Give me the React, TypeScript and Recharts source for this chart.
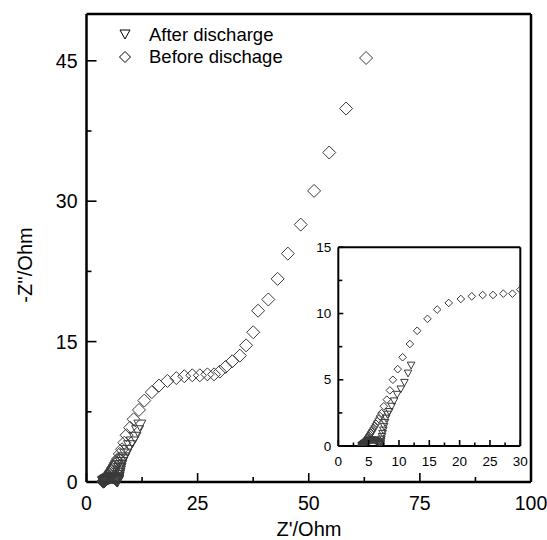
import { ScatterChart, Scatter, XAxis, YAxis, ReferenceLine, Legend } from "recharts";

// Before discharge (diamonds), Z' and -Z'' in Ohm
const beforeX = [
  3.8, 3.83, 3.86, 3.9, 3.94, 3.98, 4.03, 4.08, 4.14, 4.2, 4.28, 4.36, 4.45, 4.55, 4.66, 4.78, 4.9, 5.03,
  5.17, 5.32, 5.48, 5.65, 5.83, 6.02, 6.22, 6.43, 6.65, 6.88, 7.12, 7.5, 8.0, 8.5, 9.0, 9.8, 10.6, 11.8,
  13.0, 14.7, 16.3, 18.2, 20.2, 22.0, 23.8, 25.5, 27.2, 28.7, 30.0, 31.3, 32.8, 34.5, 35.9, 37.5, 38.6,
  40.9, 43.0, 45.3, 48.2, 51.2, 54.6, 58.4, 62.9,
];
const beforeY = [
  0.03, 0.05, 0.07, 0.09, 0.11, 0.13, 0.16, 0.19, 0.22, 0.26, 0.3, 0.35, 0.4, 0.46, 0.53, 0.6, 0.68, 0.77,
  0.87, 0.98, 1.1, 1.23, 1.37, 1.52, 1.68, 1.86, 2.05, 2.26, 2.48, 3.0, 3.5, 4.2, 5.0, 5.8, 6.7, 7.7,
  8.7, 9.6, 10.3, 10.8, 11.1, 11.3, 11.4, 11.4, 11.5, 11.5, 11.8, 12.3, 12.9, 13.5, 14.6, 16.0, 18.3,
  19.5, 21.7, 24.4, 27.5, 31.1, 35.2, 39.9, 45.3,
];

// After discharge (triangles)
const afterX = [
  3.85, 3.9, 3.95, 4.0, 4.06, 4.13, 4.2, 4.3, 4.42, 4.56, 4.72, 4.9, 5.1, 5.3, 5.5, 5.7, 5.9, 6.1, 6.3,
  6.5, 6.65, 6.78, 6.88, 6.95, 7.0, 7.05, 7.12, 7.2, 7.3, 7.42, 7.55, 7.7, 7.88, 8.1, 8.4, 8.8, 9.2, 9.7,
  10.3, 10.9, 11.5, 12.0,
];
const afterY = [
  0.02, 0.04, 0.06, 0.08, 0.1, 0.13, 0.16, 0.2, 0.24, 0.28, 0.32, 0.36, 0.4, 0.43, 0.45, 0.46, 0.45,
  0.42, 0.37, 0.3, 0.23, 0.17, 0.12, 0.1, 0.2, 0.35, 0.52, 0.72, 0.95, 1.2, 1.48, 1.78, 2.1, 2.4, 2.6,
  3.0, 3.4, 3.9, 4.3, 4.8, 5.5, 6.1,
];

const mainXTicks = [0, 12.5, 25, 37.5, 50, 62.5, 75, 87.5, 100];
const mainYTicks = [0, 7.5, 15, 22.5, 30, 37.5, 45];
const insetXTicks = [0, 2.5, 5, 7.5, 10, 12.5, 15, 17.5, 20, 22.5, 25, 27.5, 30];
const insetYTicks = [0, 2.5, 5, 7.5, 10, 12.5, 15];

const seriesNames = ["After discharge", "Before dischage"];

const before = beforeX.map((x, i) => ({ x, y: beforeY[i] }));
const after = afterX.map((x, i) => ({ x, y: afterY[i] }));

const FONT = "'Liberation Sans', Arial, Helvetica, sans-serif";
const MARK = "#3a3a3a";

const diamond = (r: number, color = MARK) => (p: any) => (
  <path
    d={`M${p.cx},${p.cy - r}L${p.cx + r},${p.cy}L${p.cx},${p.cy + r}L${p.cx - r},${p.cy}Z`}
    fill="none"
    stroke={color}
    strokeWidth={1}
  />
);

const triDown = (r: number, color = MARK) => (p: any) => (
  <path
    d={`M${p.cx - r},${p.cy - r * 0.8}L${p.cx + r},${p.cy - r * 0.8}L${p.cx},${p.cy + r}Z`}
    fill="none"
    stroke={color}
    strokeWidth={1}
  />
);

const xTick = (step: number, major: number, minor: number, dy: number, fs: number) => (p: any) => {
  const v = p.payload.value;
  const isMajor = Math.abs(v / step - Math.round(v / step)) < 1e-6;
  return (
    <g>
      <line x1={p.x} x2={p.x} y1={p.y} y2={p.y - (isMajor ? major : minor)} stroke="#000" strokeWidth={1.6} />
      {isMajor && (
        <text x={p.x} y={p.y + dy} textAnchor="middle" dominantBaseline="central" fontSize={fs} fontFamily={FONT} fill="#000">
          {v}
        </text>
      )}
    </g>
  );
};

const yTick = (step: number, major: number, minor: number, dx: number, fs: number) => (p: any) => {
  const v = p.payload.value;
  const isMajor = Math.abs(v / step - Math.round(v / step)) < 1e-6;
  return (
    <g>
      <line x1={p.x} x2={p.x + (isMajor ? major : minor)} y1={p.y} y2={p.y} stroke="#000" strokeWidth={1.6} />
      {isMajor && (
        <text x={p.x - dx} y={p.y} textAnchor="end" dominantBaseline="central" fontSize={fs} fontFamily={FONT} fill="#000">
          {v}
        </text>
      )}
    </g>
  );
};

const renderLegend = () => (
  <svg width={220} height={50} style={{ display: "block" }}>
    <g>{triDown(5, "#000")({ cx: 9, cy: 12 })}</g>
    <text x={33} y={12} dominantBaseline="central" fontSize={18.5} fontFamily={FONT}>
      {seriesNames[0]}
    </text>
    <g>{diamond(5.5, "#000")({ cx: 9, cy: 35 })}</g>
    <text x={33} y={34} dominantBaseline="central" fontSize={18.5} fontFamily={FONT}>
      {seriesNames[1]}
    </text>
  </svg>
);

export default function App() {
  return (
    <div style={{ position: "absolute", left: 0, top: 0, width: 547, height: 540, background: "#fff" }}>
      <ScatterChart width={547} height={540} margin={{ top: 14, right: 16, bottom: 0, left: 0 }}>
        <XAxis
          type="number"
          dataKey="x"
          domain={[0, 100]}
          ticks={mainXTicks}
          interval={0}
          height={58}
          tickSize={0}
          tickMargin={0}
          tickLine={false}
          axisLine={{ stroke: "#000", strokeWidth: 2.5 }}
          tick={xTick(25, 9, 5, 21, 19.5)}
          label={{
            content: () => (
              <text x={309} y={529} textAnchor="middle" dominantBaseline="central" fontSize={20} fontFamily={FONT}>
                Z'/Ohm
              </text>
            ),
          }}
        />
        <YAxis
          type="number"
          dataKey="y"
          domain={[0, 50]}
          ticks={mainYTicks}
          interval={0}
          width={86.5}
          tickSize={0}
          tickMargin={0}
          tickLine={false}
          axisLine={{ stroke: "#000", strokeWidth: 2.5 }}
          tick={yTick(15, 10, 5, 9, 19.5)}
          label={{
            content: () => (
              <text
                x={25}
                y={265}
                transform="rotate(-90 25 265)"
                textAnchor="middle"
                dominantBaseline="central"
                fontSize={20}
                fontFamily={FONT}
              >
                -Z''/Ohm
              </text>
            ),
          }}
        />
        <ReferenceLine y={50} stroke="#000" strokeWidth={2.5} />
        <ReferenceLine x={100} stroke="#000" strokeWidth={2.5} />
        <Legend
          layout="vertical"
          align="center"
          verticalAlign="middle"
          content={renderLegend}
          wrapperStyle={{ left: 116, top: 22, width: 220, height: 50 }}
        />
        <Scatter name={seriesNames[0]} data={after} shape={triDown(6)} isAnimationActive={false} />
        <Scatter name={seriesNames[1]} data={before} shape={diamond(6.5)} isAnimationActive={false} />
      </ScatterChart>

      <div style={{ position: "absolute", left: 298, top: 237 }}>
        <ScatterChart width={240} height={235} margin={{ top: 10.3, right: 17.7, bottom: 0, left: 0 }}>
          <XAxis
            type="number"
            dataKey="x"
            domain={[0, 30]}
            allowDataOverflow
            ticks={insetXTicks}
            interval={0}
            height={26}
            tickSize={0}
            tickMargin={0}
            tickLine={false}
            axisLine={{ stroke: "#000", strokeWidth: 2 }}
            tick={xTick(5, 6, 3.5, 15.5, 13.5)}
          />
          <YAxis
            type="number"
            dataKey="y"
            domain={[0, 15]}
            allowDataOverflow
            ticks={insetYTicks}
            interval={0}
            width={40.3}
            tickSize={0}
            tickMargin={0}
            tickLine={false}
            axisLine={{ stroke: "#000", strokeWidth: 2 }}
            tick={yTick(5, 5, 4, 7, 13.5)}
          />
          <ReferenceLine y={15} stroke="#000" strokeWidth={2} />
          <ReferenceLine x={30} stroke="#000" strokeWidth={2} />
          <Scatter data={after} shape={triDown(3.8)} isAnimationActive={false} />
          <Scatter data={before} shape={diamond(3.8)} isAnimationActive={false} />
        </ScatterChart>
      </div>
    </div>
  );
}
